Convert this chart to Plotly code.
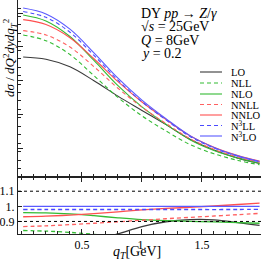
import plotly.graph_objects as go

# ---------------- data ----------------
qT = [0.01, 0.2, 0.4, 0.6, 0.8, 1.0, 1.2, 1.4, 1.6, 1.8, 1.98]

LO   = [0.7100, 0.6967, 0.6519, 0.5696, 0.4785, 0.3940, 0.3098, 0.2234, 0.1593, 0.1116, 0.0804]
NLL  = [0.8400, 0.8067, 0.7245, 0.5990, 0.4709, 0.3617, 0.2726, 0.1926, 0.1374, 0.0981, 0.0722]
NLO  = [0.9590, 0.9235, 0.8313, 0.6894, 0.5405, 0.4150, 0.3122, 0.2207, 0.1570, 0.1115, 0.0817]
NNLL = [0.8660, 0.8405, 0.7691, 0.6527, 0.5253, 0.4131, 0.3167, 0.2271, 0.1638, 0.1181, 0.0877]
NNLO = [0.9310, 0.9023, 0.8243, 0.6997, 0.5639, 0.4441, 0.3402, 0.2435, 0.1754, 0.1265, 0.0939]
N3LL = [0.9790, 0.9447, 0.8566, 0.7196, 0.5727, 0.4454, 0.3378, 0.2399, 0.1713, 0.1224, 0.0901]
N3LO = [1.0000, 0.9650, 0.8750, 0.7350, 0.5850, 0.4550, 0.3450, 0.2450, 0.1750, 0.1250, 0.0920]

series_names = ["LO", "NLL", "NLO", "NNLL", "NNLO", "N<sup>3</sup>LL", "N<sup>3</sup>LO"]
series_data = [LO, NLL, NLO, NNLL, NNLO, N3LL, N3LO]
series_colors = ["#3a3a3a", "#33bb33", "#33bb33", "#ff6060", "#ff5050", "#4a4aff", "#5a5aff"]
series_dash = ["solid", "4px,3px", "solid", "4px,3px", "solid", "4px,3px", "solid"]

ratio_ref_lines = [0.9, 1.1]
x_tickvals = [0.5, 1.0, 1.5]
x_ticktext = ["0.5", "1.", "1.5"]
y2_tickvals = [0.9, 1.0, 1.1]
y2_ticktext = ["0.9", "1.", "1.1"]

info_lines = ["DY <i>pp</i> → <i>Z</i>/<i>γ</i>",
              "√<i>s</i> = 25GeV",
              "<i>Q</i> = 8GeV",
              "<i>y</i> = 0.2"]

# ---------------- layout helpers ----------------
W = H = 266
def px_x(p):
    return p / W
def px_y(p):
    return 1 - p / H

SERIF = "Liberation Serif"

fig = go.Figure()

for name, vals, col, dash in zip(series_names, series_data, series_colors, series_dash):
    fig.add_trace(go.Scatter(x=qT, y=vals, mode="lines", name=name,
                             line=dict(color=col, width=1.1, dash=dash, shape="spline"),
                             xaxis="x", yaxis="y", showlegend=False))
    ratio = [v / r for v, r in zip(vals, N3LO)]
    fig.add_trace(go.Scatter(x=qT, y=ratio, mode="lines", name=name,
                             line=dict(color=col, width=1.3, dash=dash, shape="spline"),
                             xaxis="x2", yaxis="y2", showlegend=False))

shapes = []
for yv in ratio_ref_lines:
    shapes.append(dict(type="line", xref="x2 domain", yref="y2", x0=0, x1=1, y0=yv, y1=yv,
                       line=dict(color="black", width=1, dash="dot")))

annotations = []
# legend (manual)
leg_rows = [72, 83, 94, 104.5, 115, 125.5, 136]
for name, col, dash, ry in zip(series_names, series_colors, series_dash, leg_rows):
    shapes.append(dict(type="line", xref="paper", yref="paper",
                       x0=px_x(200), x1=px_x(222), y0=px_y(ry), y1=px_y(ry),
                       line=dict(color=col, width=1.1, dash=dash)))
    annotations.append(dict(text=name, xref="paper", yref="paper", x=px_x(229), y=px_y(ry + 0.5),
                            xanchor="left", yanchor="middle", showarrow=False,
                            font=dict(family=SERIF, size=10.5, color="black")))

info_rows = [14, 27, 40, 53]
for t, ry in zip(info_lines, info_rows):
    annotations.append(dict(text=t, xref="paper", yref="paper", x=px_x(139), y=px_y(ry),
                            xanchor="left", yanchor="middle", showarrow=False,
                            font=dict(family=SERIF, size=14, color="black")))

annotations.append(dict(text="<i>dσ</i> / <i>dQ</i><sup>2</sup><i>dydq</i><sub><i>T</i></sub><sup>2</sup>",
                        xref="paper", yref="paper", x=px_x(10), y=px_y(58), textangle=-90,
                        xanchor="center", yanchor="middle", showarrow=False,
                        font=dict(family=SERIF, size=13, color="black")))
annotations.append(dict(text="<i>q<sub>T</sub></i>[GeV]", xref="paper", yref="paper",
                        x=px_x(137), y=px_y(252), xanchor="center", yanchor="middle",
                        showarrow=False, font=dict(family=SERIF, size=14, color="black")))

xdom = [px_x(18), px_x(261)]
xrange_ = [-0.033, 1.992]
axis_common = dict(showgrid=False, zeroline=False, linecolor="#222", linewidth=1,
                   tickcolor="#222", ticks="inside")

fig.update_layout(
    width=W, height=H, margin=dict(l=0, r=0, t=0, b=0),
    paper_bgcolor="white", plot_bgcolor="white",
    showlegend=False,
    xaxis=dict(domain=xdom, range=xrange_, anchor="y", showline=True, ticklen=5,
               tickvals=x_tickvals, showticklabels=False,
               minor=dict(dtick=0.1, tick0=0, ticks="inside", ticklen=3, tickcolor="#222"),
               **axis_common),
    yaxis=dict(domain=[px_y(177), 1], range=[0, 177 / 169], anchor="x", showline=True,
               showticklabels=False, tick0=0.17, dtick=0.2, ticklen=5,
               minor=dict(dtick=0.05, ticks="inside", ticklen=3, tickcolor="#222"),
               **axis_common),
    xaxis2=dict(domain=xdom, range=xrange_, anchor="y2", showline=True, mirror="ticks",
                ticklen=5, tickvals=x_tickvals, ticktext=x_ticktext,
                tickfont=dict(family=SERIF, size=12, color="black"),
                minor=dict(dtick=0.1, tick0=0, ticks="inside", ticklen=3, tickcolor="#222"),
                **axis_common),
    yaxis2=dict(domain=[px_y(234), px_y(177)], range=[0.817, 1.194], anchor="x2",
                showline=True, ticklen=4, tickvals=y2_tickvals, ticktext=y2_ticktext,
                tickfont=dict(family=SERIF, size=12, color="black"),
                **axis_common),
    shapes=shapes, annotations=annotations,
)

fig.write_html("out.html", config={"displayModeBar": False},
               post_script="document.body.style.margin='0';")
